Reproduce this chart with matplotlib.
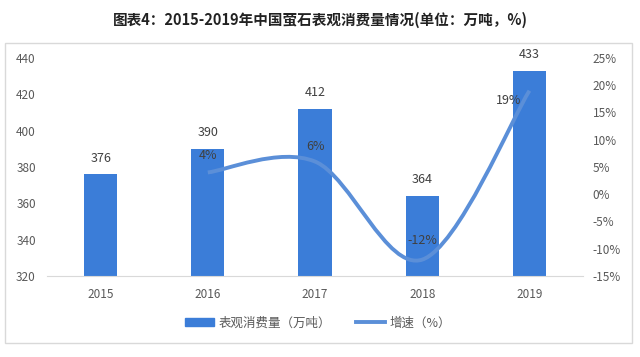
import numpy as np
import matplotlib
matplotlib.use('Agg')
import matplotlib.pyplot as plt
from matplotlib.path import Path
from matplotlib.patches import PathPatch, Patch, Rectangle
from matplotlib.lines import Line2D

plt.rcParams['font.family'] = ['Noto Sans CJK SC', 'DejaVu Sans']

years = ['2015', '2016', '2017', '2018', '2019']
consumption = [376, 390, 412, 364, 433]
growth_years = ['2016', '2017', '2018', '2019']
growth = [4, 6, -12, 19]

bar_color = '#3b7dd8'
line_color = '#5b8fd8'
tick_color = '#595959'

fig = plt.figure(figsize=(6.4, 3.57), dpi=100)
ax = fig.add_axes([0.0734, 0.227, 0.8376, 0.6105])
ax2 = ax.twinx()

x = np.arange(len(years))
bars = ax.bar(x, consumption, width=0.31, color=bar_color, zorder=2)
for xi, v in zip(x, consumption):
    ax.annotate(str(v), (xi, v), xytext=(0, 7), textcoords='offset points',
                ha='center', va='bottom', fontsize=9, color='#404040')

ax.set_ylim(320, 440)
ax.set_yticks(np.arange(320, 441, 20))
ax.set_xlim(-0.5, len(years) - 0.5)
ax.set_xticks(x)
ax.set_xticklabels(years)

# smoothed line like excel (catmull-rom as cubic bezier)
gx = [years.index(y) for y in growth_years]
pts = list(zip(gx, growth))
verts = [pts[0]]
codes = [Path.MOVETO]
n = len(pts)
for i in range(n - 1):
    p0 = np.array(pts[max(i - 1, 0)], float)
    p1 = np.array(pts[i], float)
    p2 = np.array(pts[i + 1], float)
    p3 = np.array(pts[min(i + 2, n - 1)], float)
    c1 = p1 + (p2 - p0) / 6
    c2 = p2 - (p3 - p1) / 6
    verts += [tuple(c1), tuple(c2), tuple(p2)]
    codes += [Path.CURVE4] * 3
ax2.add_patch(PathPatch(Path(verts, codes), facecolor='none', edgecolor=line_color,
                        lw=2.8, capstyle='butt', zorder=3))
ax2.set_ylim(-15, 25)
ax2.set_yticks(np.arange(-15, 26, 5))
ax2.set_yticklabels([f'{t}%' for t in range(-15, 26, 5)])

offsets = [(0, 12), (0, 11), (0, 14), (-15, -7)]
for (px, py), off in zip(pts, offsets):
    ax2.annotate(f'{py}%', (px, py), xytext=off, textcoords='offset points',
                 ha='center', va='center', fontsize=9, color='#404040')

for a in (ax, ax2):
    for s in a.spines.values():
        s.set_visible(False)
    a.tick_params(length=0, labelsize=8.5, labelcolor=tick_color)
ax.spines['bottom'].set_visible(True)
ax.spines['bottom'].set_color('#d9d9d9')
ax.tick_params(axis='y', pad=8)
ax.tick_params(axis='x', pad=9)
ax2.tick_params(axis='y', pad=7)

fig.patches.append(Rectangle((0.0078, 0.039), 0.98, 0.841, transform=fig.transFigure,
                             fill=False, edgecolor='#d9d9d9', lw=1))

fig.text(0.5, 0.945, '图表4：2015-2019年中国萤石表观消费量情况(单位：万吨，%)',
         ha='center', va='center', fontsize=10.5, fontweight='bold', color='#222222')

handles = [Patch(color=bar_color), Line2D([], [], color=line_color, lw=2.8)]
fig.legend(handles, ['表观消费量（万吨）', '增速（%）'], loc='center',
           bbox_to_anchor=(0.497, 0.095), ncol=2, frameon=False, fontsize=9,
           handlelength=2.3, handleheight=0.6, handletextpad=0.4, columnspacing=2.0,
           labelcolor=tick_color)

fig.savefig('out.png', dpi=100)
